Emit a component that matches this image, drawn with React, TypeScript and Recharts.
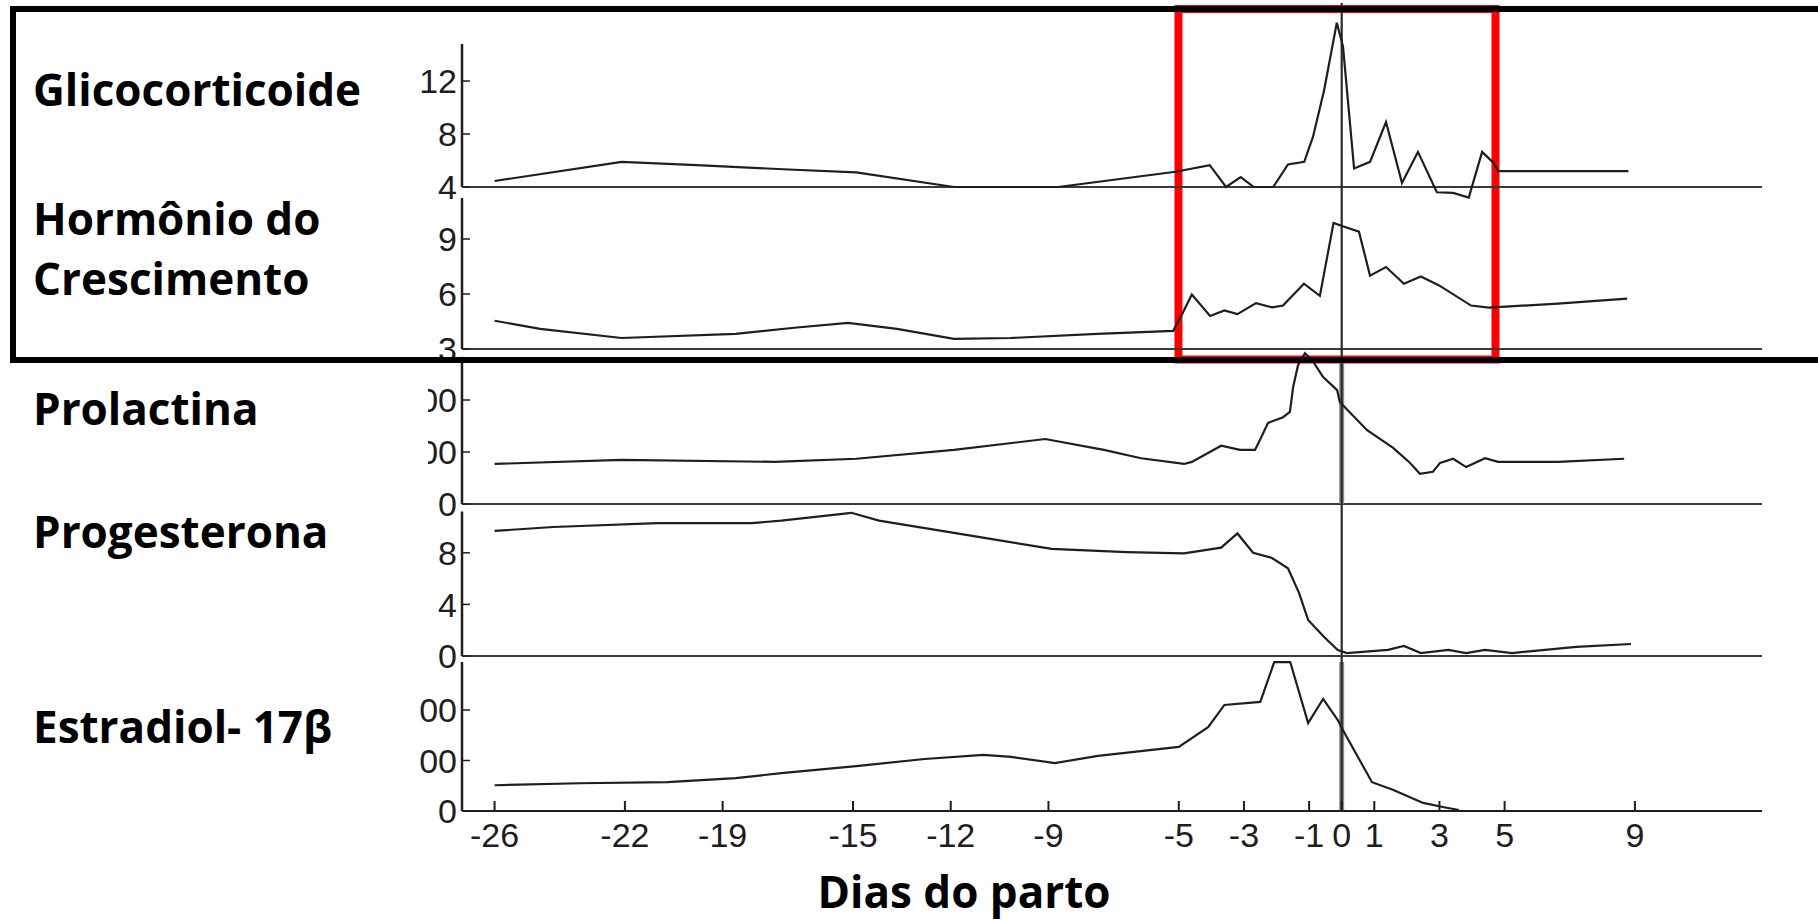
import React from 'react';
import { ComposedChart, Line, XAxis, YAxis, ReferenceLine, ReferenceArea } from 'recharts';

// ---------- data (day relative to farrowing, value) ----------
const dayTicks = [-26, -22, -19, -15, -12, -9, -5, -3, -1, 0, 1, 3, 5, 9];

const glicocorticoide: [number, number][] = [
  [-26, 4.45], [-22.1, 5.9], [-19.8, 5.65], [-16.8, 5.3], [-14.9, 5.1], [-11.9, 4.0], [-8.7, 4.0],
  [-5.1, 5.15], [-4.05, 5.65], [-3.55, 4.0], [-3.1, 4.75], [-2.7, 4.0], [-2.1, 4.0], [-1.65, 5.7],
  [-1.15, 5.9], [-0.88, 7.8], [-0.54, 11.3], [-0.15, 16.4], [0.04, 14.6], [0.38, 5.4], [0.87, 5.9],
  [1.36, 8.9], [1.85, 4.3], [2.34, 6.65], [2.92, 3.6], [3.42, 3.55], [3.9, 3.2], [4.31, 6.65],
  [4.67, 5.8], [4.8, 5.2], [8.8, 5.2],
];

const hormonioCrescimento: [number, number][] = [
  [-26, 4.54], [-24.6, 4.1], [-22.1, 3.6], [-18.6, 3.83], [-16.8, 4.16], [-15.15, 4.43], [-13.65, 4.1],
  [-11.9, 3.55], [-10.15, 3.6], [-7.5, 3.83], [-5.17, 3.99], [-4.9, 4.9], [-4.6, 5.97], [-4.04, 4.8],
  [-3.6, 5.1], [-3.2, 4.9], [-2.63, 5.5], [-2.13, 5.27], [-1.8, 5.37], [-1.16, 6.56], [-0.67, 5.9],
  [-0.25, 9.88], [0.1, 9.66], [0.53, 9.4], [0.87, 7.0], [1.36, 7.47], [1.91, 6.56], [2.43, 6.96],
  [2.99, 6.47], [3.97, 5.37], [4.52, 5.26], [6.64, 5.48], [8.76, 5.75],
];

const prolactina: [number, number][] = [
  [-26, 77], [-22.1, 85], [-17.4, 81], [-14.9, 87], [-11.9, 104], [-9.1, 125], [-7.3, 104], [-6.16, 88],
  [-4.84, 77], [-4.6, 81], [-3.7, 112], [-3.12, 104], [-2.66, 104], [-2.51, 123], [-2.26, 156],
  [-1.8, 167], [-1.59, 177], [-1.49, 225], [-1.34, 267], [-1.13, 290], [-0.91, 277], [-0.57, 244],
  [-0.14, 219], [-0.06, 196], [0.78, 142], [1.58, 108], [2.1, 79], [2.4, 58], [2.8, 62], [3.02, 79],
  [3.42, 87], [3.82, 71], [4.4, 88], [4.8, 81], [6.64, 81], [8.67, 87],
];

const progesterona: [number, number][] = [
  [-26, 9.7], [-24.2, 10.0], [-21.0, 10.3], [-18.1, 10.3], [-17.2, 10.5], [-15.05, 11.1], [-14.2, 10.5],
  [-11.9, 9.55], [-8.9, 8.3], [-6.6, 8.06], [-4.84, 7.95], [-3.7, 8.4], [-3.2, 9.5], [-2.72, 8.0],
  [-2.14, 7.6], [-1.65, 6.8], [-1.31, 4.9], [-1.03, 2.8], [-0.54, 1.47], [-0.12, 0.47], [0.16, 0.23],
  [1.42, 0.47], [1.91, 0.78], [2.43, 0.23], [3.27, 0.47], [3.82, 0.23], [4.4, 0.47], [5.23, 0.23],
  [7.2, 0.7], [8.88, 0.93],
];

const estradiol: [number, number][] = [
  [-26, 51], [-23.4, 55], [-20.7, 57], [-18.6, 65], [-17.2, 75], [-14.9, 89], [-12.8, 103], [-11.0, 111],
  [-10.15, 107], [-8.8, 95], [-7.48, 109], [-5.0, 127], [-4.1, 166], [-3.6, 210], [-2.5, 216],
  [-2.07, 295], [-1.58, 295], [-1.03, 174], [-0.57, 222], [-0.12, 180], [0.04, 160], [0.93, 57],
  [1.57, 42], [2.5, 16], [3.1, 8], [3.6, 2],
];

const glicoTicks = [4, 8, 12];
const ghTicks = [3, 6, 9];
const prlTicks = [0, 100, 200];
const progTicks = [0, 4, 8];
const e2Ticks = [0, 100, 200];

// highlighted window (days) of the red box
const highlightDays = [-5.01, 4.72];

// ---------- layout ----------
const W = 1818;
const H = 920;
const PLOT_TOP = 3;
const PLOT_BOTTOM = 811;
const PLOT_LEFT = 462;
const PLOT_RIGHT = 1762;
const X_DOMAIN: [number, number] = [-27, 12.9];
const Y_AXIS_W = 0.01;

type Panel = {
  id: string;
  data: [number, number][];
  base: number;
  basePx: number;
  pxPerUnit: number;
  axisTop: number;
  ticks: number[];
  clipX?: number;
  grayZero?: boolean;
};

const panels: Panel[] = [
  { id: 'p1', data: glicocorticoide, base: 4, basePx: 187, pxPerUnit: 13.25, axisTop: 14.8, ticks: glicoTicks },
  { id: 'p2', data: hormonioCrescimento, base: 3, basePx: 349, pxPerUnit: 18.33, axisTop: 11.24, ticks: ghTicks },
  { id: 'p3', data: prolactina, base: 0, basePx: 504, pxPerUnit: 0.52, axisTop: 283, ticks: prlTicks, clipX: 428, grayZero: true },
  { id: 'p4', data: progesterona, base: 0, basePx: 656, pxPerUnit: 12.9, axisTop: 11.2, ticks: progTicks },
  { id: 'p5', data: estradiol, base: 0, basePx: 811, pxPerUnit: 0.505, axisTop: 295, ticks: e2Ticks, clipX: 418, grayZero: true },
];

const domainOf = (p: Panel): [number, number] => [
  p.base - (PLOT_BOTTOM - p.basePx) / p.pxPerUnit,
  p.base + (p.basePx - PLOT_TOP) / p.pxPerUnit,
];

const TICK_FONT = "'Liberation Sans', Arial, sans-serif";
const TITLE_FONT = "'Open Sans', 'Noto Sans', sans-serif";
const INK = '#1e1e1e';

const makeYTick = (panelId: string, clipX?: number) => (props: any) => {
  const { x, y, payload } = props;
  const ax = Math.round(x);
  const clipId = clipX != null ? `yclip-${panelId}-${payload.value}` : undefined;
  return (
    <g>
      {clipId && (
        <defs>
          <clipPath id={clipId}>
            <rect x={clipX} y={y - 40} width={200} height={80} />
          </clipPath>
        </defs>
      )}
      <line x1={ax} y1={y} x2={ax + 8} y2={y} stroke={INK} strokeWidth={1.5} />
      <text
        x={ax - 5}
        y={y}
        dy="0.36em"
        textAnchor="end"
        fontFamily={TICK_FONT}
        fontSize={34}
        fill={INK}
        clipPath={clipId ? `url(#${clipId})` : undefined}
      >
        {payload.value}
      </text>
    </g>
  );
};

const XTick = (props: any) => {
  const { x, y, payload } = props;
  return (
    <g>
      <line x1={x} y1={y} x2={x} y2={y - 10} stroke={INK} strokeWidth={2} />
      <text x={x} y={y + 36} textAnchor="middle" fontFamily={TICK_FONT} fontSize={34} fill={INK}>
        {payload.value}
      </text>
    </g>
  );
};

const titles = [
  { text: 'Glicocorticoide', x: 33, y: 106 },
  { text: 'Hormônio do', x: 33, y: 235 },
  { text: 'Crescimento', x: 33, y: 295 },
  { text: 'Prolactina', x: 33, y: 425 },
  { text: 'Progesterona', x: 33, y: 548 },
  { text: 'Estradiol- 17β', x: 33, y: 743 },
];

export default function App() {
  return (
    <div style={{ position: 'absolute', left: 0, top: 0, width: W, height: H, overflow: 'hidden', background: '#fff' }}>
      <svg width={W} height={H} style={{ position: 'absolute', left: 0, top: 0 }}>
        {titles.map((t) => (
          <text key={t.text} x={t.x} y={t.y} fontFamily={TITLE_FONT} fontWeight={700} fontSize={44} fill="#000">
            {t.text}
          </text>
        ))}
        <text x={964} y={908} textAnchor="middle" fontFamily={TITLE_FONT} fontWeight={700} fontSize={44} fill="#000">
          Dias do parto
        </text>
      </svg>
      <div style={{ position: 'absolute', left: 0, top: 0 }}>
        <ComposedChart
          width={W}
          height={H}
          margin={{
            top: PLOT_TOP,
            right: W - PLOT_RIGHT,
            bottom: H - PLOT_BOTTOM - 50,
            left: PLOT_LEFT - Y_AXIS_W * panels.length,
          }}
        >
          <XAxis
            type="number"
            dataKey="day"
            domain={X_DOMAIN}
            ticks={dayTicks}
            interval={0}
            height={50}
            tickSize={0}
            tickMargin={0}
            tickLine={false}
            axisLine={{ stroke: INK, strokeWidth: 2 }}
            tick={<XTick />}
            allowDataOverflow
          />
          {panels.map((p) => (
            <YAxis
              key={p.id}
              yAxisId={p.id}
              type="number"
              width={Y_AXIS_W}
              domain={domainOf(p)}
              ticks={p.ticks}
              interval={0}
              tickSize={0}
              tickMargin={0}
              tickLine={false}
              axisLine={false}
              tick={makeYTick(p.id, p.clipX)}
            />
          ))}
          {panels.map((p) => (
            <ReferenceLine
              key={`base-${p.id}`}
              yAxisId={p.id}
              y={p.base}
              stroke="#3a3a3a"
              strokeWidth={2}
            />
          ))}
          {panels.map((p) => (
            <ReferenceLine
              key={`axis-${p.id}`}
              yAxisId={p.id}
              segment={[{ x: X_DOMAIN[0], y: p.base }, { x: X_DOMAIN[0], y: p.axisTop }]}
              stroke={INK}
              strokeWidth={2.5}
            />
          ))}
          {panels
            .filter((p) => p.grayZero)
            .map((p) => (
              <ReferenceLine
                key={`zero-gray-${p.id}`}
                yAxisId={p.id}
                segment={[{ x: 0, y: p.base }, { x: 0, y: p.axisTop }]}
                stroke="#8a8a8a"
                strokeWidth={5}
              />
            ))}
          <ReferenceLine yAxisId="p5" x={0} stroke="#2a2a2a" strokeWidth={2.2} />
          {panels.map((p) => (
            <Line
              key={`line-${p.id}`}
              yAxisId={p.id}
              data={p.data.map(([day, v]) => ({ day, v }))}
              dataKey="v"
              type="linear"
              stroke={INK}
              strokeWidth={2.2}
              dot={false}
              activeDot={false}
              isAnimationActive={false}
            />
          ))}
          <ReferenceArea
            yAxisId="p2"
            x1={highlightDays[0]}
            x2={highlightDays[1]}
            y1={3 - (359.5 - 349) / 18.33}
            y2={3 + (349 - 9) / 18.33}
            fill="none"
            fillOpacity={0}
            stroke="#ff0000"
            strokeWidth={8}
            ifOverflow="visible"
          />
        </ComposedChart>
      </div>
      <div
        style={{
          position: 'absolute',
          left: 10,
          top: 6,
          width: W + 20,
          height: 357,
          borderTop: '6px solid #000',
          borderLeft: '6px solid #000',
          borderBottom: '6px solid #000',
          boxSizing: 'border-box',
          pointerEvents: 'none',
        }}
      />
    </div>
  );
}
